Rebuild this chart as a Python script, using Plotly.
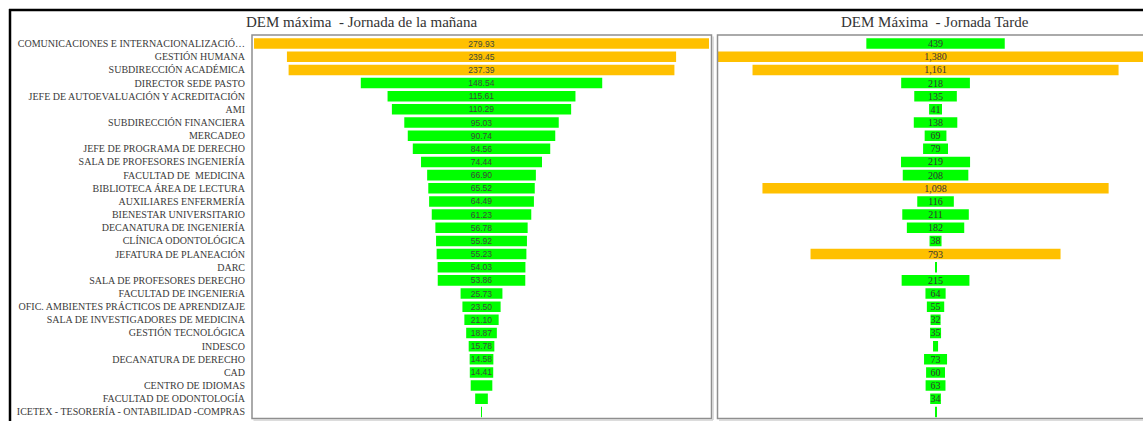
import plotly.graph_objects as go

W, H = 1143, 421

categories = [
    "COMUNICACIONES E INTERNACIONALIZACIÓ…",
    "GESTIÓN HUMANA",
    "SUBDIRECCIÓN ACADÉMICA",
    "DIRECTOR SEDE PASTO",
    "JEFE DE AUTOEVALUACIÓN Y ACREDITACIÓN",
    "AMI",
    "SUBDIRECCIÓN FINANCIERA",
    "MERCADEO",
    "JEFE DE PROGRAMA DE DERECHO",
    "SALA DE PROFESORES INGENIERÍA",
    "FACULTAD DE  MEDICINA",
    "BIBLIOTECA ÁREA DE LECTURA",
    "AUXILIARES ENFERMERÍA",
    "BIENESTAR UNIVERSITARIO",
    "DECANATURA DE INGENIERÍA",
    "CLÍNICA ODONTOLÓGICA",
    "JEFATURA DE PLANEACIÓN",
    "DARC",
    "SALA DE PROFESORES DERECHO",
    "FACULTAD DE INGENIERíA",
    "OFIC. AMBIENTES PRÁCTICOS DE APRENDIZAJE",
    "SALA DE INVESTIGADORES DE MEDICINA",
    "GESTIÓN TECNOLÓGICA",
    "INDESCO",
    "DECANATURA DE DERECHO",
    "CAD",
    "CENTRO DE IDIOMAS",
    "FACULTAD DE ODONTOLOGÍA",
    "ICETEX - TESORERÍA - ONTABILIDAD -COMPRAS",
]

morning = [279.93, 239.45, 237.39, 148.54, 115.61, 110.29, 95.03, 90.74, 84.56,
           74.44, 66.90, 65.52, 64.49, 61.23, 56.78, 55.92, 55.23, 54.03, 53.86,
           25.73, 23.50, 21.10, 18.87, 15.78, 14.58, 14.41, 13.3, 7.8, 0.6]

afternoon = [439, 1380, 1161, 218, 135, 41, 138, 69, 79, 219, 208, 1098, 116, 211,
             182, 38, 793, 3, 215, 64, 55, 32, 35, 16, 73, 60, 63, 34, 3]

title_left = "DEM máxima  - Jornada de la mañana"
title_right = "DEM Máxima  - Jornada Tarde"

ORANGE = "#FFC000"
GREEN = "#00FF00"

left_colors = [ORANGE if v > 200 else GREEN for v in morning]
right_colors = [ORANGE if v > 500 else GREEN for v in afternoon]
left_text = [f"{v:.2f}" if v >= 14 else "" for v in morning]
right_text = [f"{v:,.0f}" if v >= 30 else "" for v in afternoon]


def px(x):
    return x / W


def py(y):
    return (H - y) / H


fig = go.Figure()
fig.add_trace(go.Funnel(
    x=morning, y=categories, xaxis="x", yaxis="y",
    marker=dict(color=left_colors, line=dict(width=0)),
    text=left_text, textinfo="text", textposition="inside",
    insidetextanchor="middle", constraintext="none",
    textfont=dict(family="Liberation Sans", size=8.5, color="#3c4a3c"),
    connector=dict(visible=False), hoverinfo="x+y",
))
fig.add_trace(go.Funnel(
    x=afternoon, y=categories, xaxis="x2", yaxis="y2",
    marker=dict(color=right_colors, line=dict(width=0)),
    text=right_text, textinfo="text", textposition="inside",
    insidetextanchor="middle", constraintext="none",
    textfont=dict(family="Liberation Serif", size=10, color="#333333"),
    connector=dict(visible=False), hoverinfo="x+y",
))

ydom = [py(418.5), py(37)]
yax_common = dict(
    type="category", categoryorder="array", categoryarray=categories,
    autorange="reversed", domain=ydom, showgrid=False, zeroline=False,
    showline=False, ticks="",
)

fig.update_layout(
    width=W, height=H, autosize=False,
    margin=dict(l=0, r=0, t=0, b=0),
    paper_bgcolor="white", plot_bgcolor="white",
    showlegend=False, bargap=0.13,
    xaxis=dict(domain=[px(253), px(711)], range=[-140.6, 141.2], visible=False,
               anchor="y"),
    xaxis2=dict(domain=[px(718), 1.0], range=[-690, 658], visible=False,
                anchor="y2"),
    yaxis=dict(**yax_common, anchor="x", ticklabelstandoff=7,
               tickfont=dict(family="Liberation Serif", size=10, color="#3a3a3a")),
    yaxis2=dict(**yax_common, anchor="x2", showticklabels=False),
    font=dict(family="Liberation Serif"),
)

shapes = [
    # panel frames
    dict(type="rect", xref="paper", yref="paper", x0=px(252), x1=px(711.5),
         y0=py(418.5), y1=py(35), line=dict(color="#8f8f8f", width=1.5)),
    dict(type="line", xref="paper", yref="paper", x0=px(713), x1=px(713),
         y0=py(420), y1=py(36.5), line=dict(color="#d0d0d0", width=1.5)),
    dict(type="line", xref="paper", yref="paper", x0=px(253.5), x1=px(713),
         y0=py(420), y1=py(420), line=dict(color="#d0d0d0", width=1.5)),
    dict(type="rect", xref="paper", yref="paper", x0=px(717.5), x1=px(1160),
         y0=py(418.5), y1=py(35), line=dict(color="#8f8f8f", width=1.5)),
    dict(type="line", xref="paper", yref="paper", x0=px(719), x1=px(1160),
         y0=py(420), y1=py(420), line=dict(color="#d0d0d0", width=1.5)),
    # outer black border
    dict(type="line", xref="paper", yref="paper", x0=px(9), x1=1.0,
         y0=py(10), y1=py(10), line=dict(color="black", width=2.5)),
    dict(type="line", xref="paper", yref="paper", x0=px(10), x1=px(10),
         y0=0, y1=py(9), line=dict(color="black", width=2.5)),
]
fig.update_layout(shapes=shapes)

fig.add_annotation(text=title_left, xref="paper", yref="paper", x=px(362), y=py(22),
                   xanchor="center", yanchor="middle", showarrow=False,
                   font=dict(family="Liberation Serif", size=15, color="#333333"))
fig.add_annotation(text=title_right, xref="paper", yref="paper", x=px(935), y=py(22),
                   xanchor="center", yanchor="middle", showarrow=False,
                   font=dict(family="Liberation Serif", size=15, color="#333333"))

fig.write_html("out.html")
